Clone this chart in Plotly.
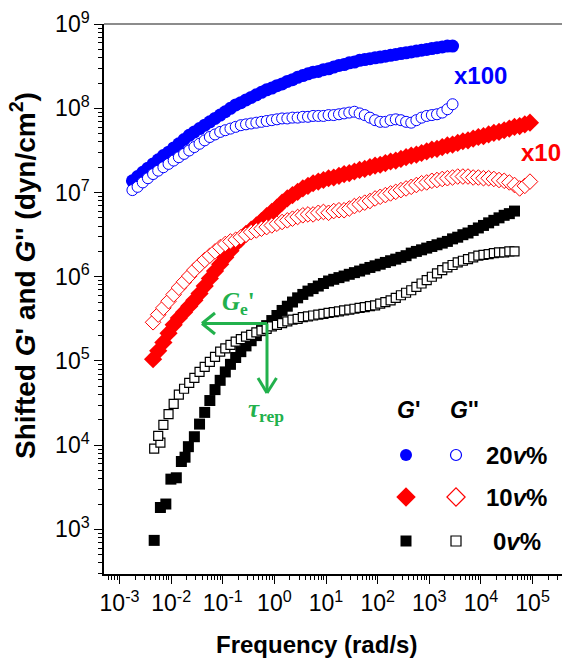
import plotly.graph_objects as go

# ---------------- data ----------------
# common frequency grid (rad/s)
FREQ = [1.78e-3, 2.24e-3, 2.82e-3, 3.55e-3, 4.47e-3, 5.62e-3, 7.08e-3, 8.91e-3,
        1.12e-2, 1.41e-2, 1.78e-2, 2.24e-2, 2.82e-2, 3.55e-2, 4.47e-2, 5.62e-2, 7.08e-2, 8.91e-2,
        0.112, 0.141, 0.178, 0.224, 0.282, 0.355, 0.447, 0.562, 0.708, 0.891,
        1.12, 1.41, 1.78, 2.24, 2.82, 3.55, 4.47, 5.62, 7.08, 8.91,
        11.2, 14.1, 17.8, 22.4, 28.2, 35.5, 44.7, 56.2, 70.8, 89.1,
        112, 141, 178, 224, 282, 355, 447, 562, 708, 891,
        1120, 1410, 1780, 2240, 2820, 3550, 4470, 5620, 7080, 8910,
        11200, 14100, 17800, 22400, 28200, 35500, 44700, 56200, 70800, 89100]

# 20 v% (shifted x100)
freq_20 = FREQ[0:63]
Gp_20 = [1.38e7, 1.55e7, 1.74e7, 1.95e7, 2.19e7, 2.45e7, 2.75e7, 3.02e7, 3.39e7, 3.80e7,
         4.27e7, 4.79e7, 5.25e7, 5.75e7, 6.31e7, 6.92e7, 7.59e7, 8.32e7, 9.12e7, 1.00e8,
         1.10e8, 1.17e8, 1.26e8, 1.35e8, 1.45e8, 1.55e8, 1.66e8, 1.74e8, 1.86e8, 1.95e8,
         2.09e8, 2.19e8, 2.34e8, 2.45e8, 2.57e8, 2.69e8, 2.75e8, 2.88e8, 2.95e8, 3.09e8,
         3.24e8, 3.31e8, 3.47e8, 3.55e8, 3.72e8, 3.80e8, 3.89e8, 3.98e8, 4.07e8, 4.17e8,
         4.27e8, 4.37e8, 4.47e8, 4.57e8, 4.68e8, 4.79e8, 4.90e8, 5.01e8, 5.13e8, 5.25e8,
         5.37e8, 5.50e8, 5.50e8]
Gpp_20 = [1.07e7, 1.17e7, 1.32e7, 1.48e7, 1.66e7, 1.82e7, 2.00e7, 2.19e7, 2.40e7, 2.63e7,
          2.88e7, 3.16e7, 3.47e7, 3.80e7, 4.17e7, 4.57e7, 4.90e7, 5.25e7, 5.50e7, 5.75e7,
          6.03e7, 6.31e7, 6.46e7, 6.61e7, 6.76e7, 6.92e7, 7.08e7, 7.24e7, 7.41e7, 7.59e7,
          7.59e7, 7.76e7, 7.76e7, 7.94e7, 7.94e7, 8.13e7, 8.13e7, 8.13e7, 8.32e7, 8.32e7,
          8.51e7, 8.71e7, 8.91e7, 9.12e7, 8.71e7, 8.32e7, 7.76e7, 7.24e7, 6.92e7, 6.92e7,
          7.24e7, 7.41e7, 7.24e7, 6.92e7, 6.76e7, 7.24e7, 7.76e7, 8.13e7, 8.32e7, 8.51e7,
          8.91e7, 9.77e7, 1.12e8]

# 10 v% (shifted x10)
freq_10 = FREQ[4:78]
Gp_10 = [1.05e5, 1.32e5, 1.66e5, 2.14e5, 2.69e5, 3.24e5, 3.80e5, 4.47e5, 5.25e5, 6.31e5,
         7.76e5, 9.55e5, 1.17e6, 1.41e6, 1.70e6, 2.04e6, 2.45e6, 2.82e6, 3.24e6, 3.63e6,
         4.07e6, 4.57e6, 5.25e6, 5.89e6, 6.61e6, 7.59e6, 8.51e6, 9.33e6, 1.02e7, 1.12e7,
         1.20e7, 1.29e7, 1.35e7, 1.41e7, 1.48e7, 1.51e7, 1.58e7, 1.66e7, 1.70e7, 1.78e7,
         1.86e7, 1.91e7, 2.00e7, 2.09e7, 2.14e7, 2.24e7, 2.34e7, 2.40e7, 2.51e7, 2.63e7,
         2.75e7, 2.82e7, 2.95e7, 3.09e7, 3.24e7, 3.31e7, 3.47e7, 3.63e7, 3.72e7, 3.89e7,
         4.07e7, 4.17e7, 4.37e7, 4.57e7, 4.68e7, 4.90e7, 5.13e7, 5.25e7, 5.50e7, 5.75e7,
         6.03e7, 6.17e7, 6.46e7, 6.76e7]
Gpp_10 = [2.88e5, 3.55e5, 4.27e5, 5.13e5, 6.17e5, 7.41e5, 8.71e5, 1.02e6, 1.20e6, 1.38e6,
          1.58e6, 1.78e6, 2.00e6, 2.24e6, 2.45e6, 2.63e6, 2.75e6, 2.95e6, 3.16e6, 3.39e6,
          3.55e6, 3.72e6, 3.89e6, 4.07e6, 4.27e6, 4.47e6, 4.68e6, 4.90e6, 5.13e6, 5.37e6,
          5.50e6, 5.50e6, 5.75e6, 5.89e6, 5.75e6, 6.03e6, 6.17e6, 6.17e6, 6.46e6, 6.92e6,
          7.24e6, 7.59e6, 7.94e6, 8.51e6, 8.91e6, 9.33e6, 9.77e6, 1.02e7, 1.07e7, 1.12e7,
          1.17e7, 1.23e7, 1.29e7, 1.32e7, 1.38e7, 1.41e7, 1.45e7, 1.48e7, 1.51e7, 1.55e7,
          1.55e7, 1.55e7, 1.51e7, 1.51e7, 1.48e7, 1.48e7, 1.45e7, 1.41e7, 1.38e7, 1.32e7,
          1.23e7, 1.12e7, 1.20e7, 1.35e7]

# 0 v%
freq_0_Gp = [4.7e-3, 6.2e-3, 7.9e-3, 9.9e-3, 1.26e-2, 1.58e-2, 1.86e-2, 2.16e-2] + FREQ[12:75]
Gp_0 = [740, 1.82e3, 2.0e3, 3.95e3, 4.1e3, 6.4e3, 7.2e3, 9.6e3,
        1.26e4, 1.78e4, 2.45e4, 3.39e4, 4.57e4, 5.89e4, 7.41e4, 9.12e4, 1.10e5, 1.29e5,
        1.51e5, 1.74e5, 2.00e5, 2.29e5, 2.63e5, 3.02e5, 3.47e5, 3.98e5, 4.47e5, 5.01e5,
        5.62e5, 6.17e5, 6.76e5, 7.24e5, 7.76e5, 8.32e5, 8.91e5, 9.33e5, 9.77e5, 1.02e6,
        1.07e6, 1.12e6, 1.17e6, 1.23e6, 1.29e6, 1.35e6, 1.41e6, 1.48e6, 1.55e6, 1.62e6,
        1.70e6, 1.78e6, 1.91e6, 2.00e6, 2.09e6, 2.19e6, 2.29e6, 2.40e6, 2.51e6, 2.63e6,
        2.82e6, 2.95e6, 3.16e6, 3.31e6, 3.55e6, 3.80e6, 4.07e6, 4.37e6, 4.68e6, 5.01e6,
        5.37e6, 5.62e6, 6.03e6]
freq_0_Gpp = [4.7e-3, 6.2e-3] + FREQ[5:75]
Gpp_0 = [9.1e3, 1.07e4,
         1.29e4, 1.74e4, 2.34e4, 3.09e4, 3.98e4, 4.68e4, 5.50e4, 6.31e4, 7.41e4, 8.51e4,
         9.77e4, 1.12e5, 1.29e5, 1.41e5, 1.55e5, 1.70e5, 1.82e5, 1.95e5, 2.04e5, 2.19e5,
         2.29e5, 2.40e5, 2.57e5, 2.69e5, 2.82e5, 2.95e5, 3.09e5, 3.16e5, 3.31e5, 3.39e5,
         3.47e5, 3.55e5, 3.63e5, 3.72e5, 3.80e5, 3.89e5, 3.98e5, 4.07e5, 4.17e5, 4.27e5,
         4.37e5, 4.47e5, 4.57e5, 4.79e5, 5.01e5, 5.25e5, 5.62e5, 6.03e5, 6.46e5, 6.92e5,
         7.59e5, 8.32e5, 9.12e5, 1.00e6, 1.10e6, 1.20e6, 1.29e6, 1.38e6, 1.48e6, 1.55e6,
         1.62e6, 1.70e6, 1.78e6, 1.82e6, 1.86e6, 1.91e6, 1.95e6, 1.95e6, 2.00e6, 2.00e6]

# tick labels
x_tickvals = [1e-3, 1e-2, 1e-1, 1e0, 1e1, 1e2, 1e3, 1e4, 1e5]
x_ticktext = ["10<sup>-3</sup>", "10<sup>-2</sup>", "10<sup>-1</sup>", "10<sup>0</sup>",
              "10<sup>1</sup>", "10<sup>2</sup>", "10<sup>3</sup>", "10<sup>4</sup>",
              "10<sup>5</sup>"]
y_tickvals = [1e3, 1e4, 1e5, 1e6, 1e7, 1e8, 1e9]
y_ticktext = ["10<sup>3</sup>", "10<sup>4</sup>", "10<sup>5</sup>", "10<sup>6</sup>",
              "10<sup>7</sup>", "10<sup>8</sup>", "10<sup>9</sup>"]

legend_rows = ["20<i>v</i>%", "10<i>v</i>%", "0<i>v</i>%"]

# ---------------- layout helpers ----------------
W, H = 562, 660
ML, MT, MB, MR = 104, 24, 86, 0
PW, PH = W - ML - MR, H - MT - MB


def px(x):
    return (x - ML) / PW


def py(y):
    return (H - MB - y) / PH


BLUE, RED, BLACK, GREEN = "#0000FF", "#FF0000", "#000000", "#22B14C"
FONT = "Liberation Sans, Arial, sans-serif"
SERIF = "Liberation Serif, Times New Roman, serif"

fig = go.Figure()


def add_pair(fx, g1, fx2, g2, color, sym, s1, s2, lw):
    fig.add_trace(go.Scatter(x=fx, y=g1, mode="markers",
                             marker=dict(symbol=sym, size=s1, color=color,
                                         line=dict(width=0)), showlegend=False))
    fig.add_trace(go.Scatter(x=fx2, y=g2, mode="markers",
                             marker=dict(symbol=sym, size=s2, color="white",
                                         line=dict(width=lw, color=color)),
                             showlegend=False))


add_pair(freq_0_Gp, Gp_0, freq_0_Gpp, Gpp_0, BLACK, "square", 11, 9, 1.2)
add_pair(freq_10, Gp_10, freq_10, Gpp_10, RED, "diamond", 14, 12, 1.0)
add_pair(freq_20, Gp_20, freq_20, Gpp_20, BLUE, "circle", 13, 11, 1.0)

# legend symbols (overlay axes 0..1 == plot area)
leg_y = [py(455), py(497), py(541)]
leg_sym = ["circle", "diamond", "square"]
leg_col = [BLUE, RED, BLACK]
leg_size = [12, 15, 11]
for yy, sy, cc, ss in zip(leg_y, leg_sym, leg_col, leg_size):
    fig.add_trace(go.Scatter(x=[px(406)], y=[yy], xaxis="x2", yaxis="y2", mode="markers",
                             marker=dict(symbol=sy, size=ss, color=cc, line=dict(width=0)),
                             showlegend=False))
    fig.add_trace(go.Scatter(x=[px(456)], y=[yy], xaxis="x2", yaxis="y2", mode="markers",
                             marker=dict(symbol=sy, size=ss - 1, color="white",
                                         line=dict(width=1.2, color=cc)),
                             showlegend=False))

ann = []
ann.append(dict(x=px(408), y=py(410), text="<b><i>G</i>'</b>", showarrow=False,
                font=dict(family=FONT, size=23, color="black")))
ann.append(dict(x=px(464), y=py(410), text="<b><i>G</i>''</b>", showarrow=False,
                font=dict(family=FONT, size=23, color="black")))
for lab, yy, xx in zip(legend_rows, [455, 497, 541], [516, 516, 517]):
    ann.append(dict(x=px(xx), y=py(yy), text="<b>" + lab + "</b>", showarrow=False,
                    font=dict(family=FONT, size=24, color="black")))
ann.append(dict(x=px(480), y=py(75), text="<b>x100</b>", showarrow=False,
                font=dict(family=FONT, size=24, color=BLUE)))
ann.append(dict(x=px(519), y=py(152), text="<b>x10</b>", showarrow=False, xanchor="left",
                font=dict(family=FONT, size=24, color=RED)))
ann.append(dict(x=px(238), y=py(304), text="<b><i>G</i><sub>e</sub>'</b>", showarrow=False,
                font=dict(family=SERIF, size=25, color=GREEN)))
ann.append(dict(x=px(266), y=py(410), text="<b><i>τ</i><sub>rep</sub></b>", showarrow=False,
                font=dict(family=SERIF, size=25, color=GREEN)))
# axis titles
ann.append(dict(x=px(316), y=py(644), text="<b>Frequency (rad/s)</b>", showarrow=False,
                font=dict(family=FONT, size=24, color="black")))
ann.append(dict(x=px(23), y=py(276), textangle=-90,
                text="<b>Shifted <i>G</i>' and <i>G</i>'' (dyn/cm<sup>2</sup>)</b>",
                showarrow=False, font=dict(family=FONT, size=28, color="black")))
for a in ann:
    a.setdefault("xref", "paper")
    a.setdefault("yref", "paper")
    a.setdefault("xanchor", "center")
    a.setdefault("yanchor", "middle")

shapes = []
# top frame line
shapes.append(dict(type="line", xref="paper", yref="paper", x0=0, x1=1, y0=1, y1=1,
                   line=dict(color="#666666", width=1.5)))
# green arrows (pixel geometry of the annotation)
corner = (267, 323.5)
lw = 3
for (xa, ya, xb, yb) in [
        (corner[0], corner[1], 202, corner[1]),
        (202, corner[1], 215, 313), (202, corner[1], 215, 334),
        (corner[0], corner[1], corner[0], 393),
        (corner[0], 393, 258, 378), (corner[0], 393, 276.5, 378)]:
    shapes.append(dict(type="line", xref="paper", yref="paper",
                       x0=px(xa), y0=py(ya), x1=px(xb), y1=py(yb),
                       line=dict(color=GREEN, width=lw)))

axis_common = dict(type="log", showgrid=False, zeroline=False, showline=True,
                   linecolor="black", linewidth=1.5, ticks="outside", ticklen=8,
                   tickwidth=1.2, tickcolor="black", tickmode="array", tickangle=0,
                   tickfont=dict(family=FONT, size=23, color="black"),
                   minor=dict(ticks="outside", ticklen=4, tickwidth=1, tickcolor="black",
                              dtick="D1", showgrid=False))

fig.update_layout(
    width=W, height=H,
    margin=dict(l=ML, r=MR, t=MT, b=MB, pad=0),
    paper_bgcolor="white", plot_bgcolor="white",
    showlegend=False,
    xaxis=dict(range=[-3.30, 5.57], tickvals=x_tickvals, ticktext=x_ticktext, **axis_common),
    yaxis=dict(range=[2.47, 9.002], tickvals=y_tickvals, ticktext=y_ticktext, **axis_common),
    xaxis2=dict(overlaying="x", range=[0, 1], visible=False),
    yaxis2=dict(overlaying="y", range=[0, 1], visible=False),
    annotations=ann,
    shapes=shapes,
)

fig.write_html("out.html")
